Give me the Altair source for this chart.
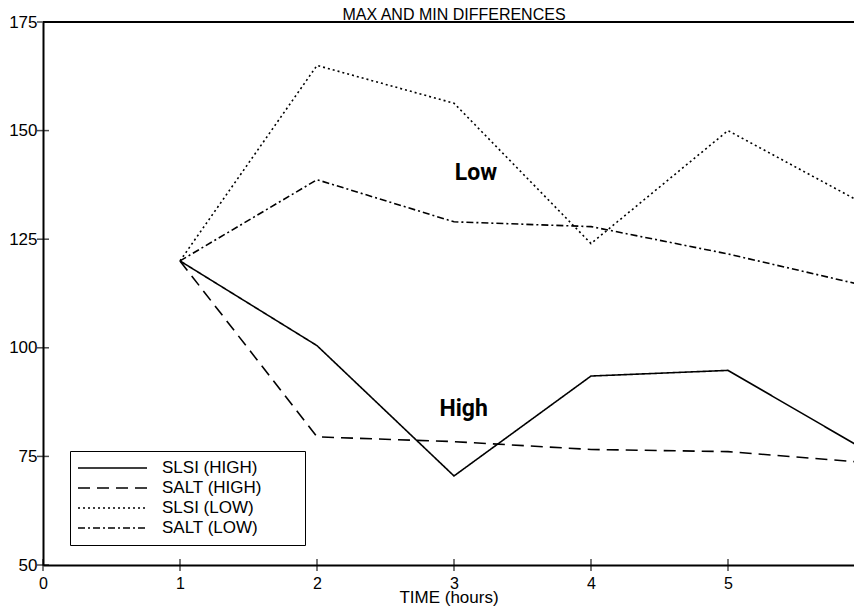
import altair as alt
import pandas as pd

hours = [1, 2, 3, 4, 5, 6]
series_names = ["SLSI (HIGH)", "SALT (HIGH)", "SLSI (LOW)", "SALT (LOW)"]
slsi_high = [120, 100.5, 70.5, 93.5, 94.8, 76.5]
salt_high = [120, 79.5, 78.4, 76.6, 76.1, 73.6]
slsi_low = [120, 165, 156.3, 124, 150, 133]
salt_low = [120, 138.7, 129, 127.9, 121.6, 114.3]

x_ticks = [0, 1, 2, 3, 4, 5, 6]
y_ticks = [50, 75, 100, 125, 150, 175]

labels_text = ["Low", "High"]
labels_x = [3.16, 3.07]
labels_y = [140.2, 86.0]

title_text = ["MAX AND MIN DIFFERENCES"]
title_x = [3.0]
title_y = [175]

rows = []
for name, vals in zip(series_names, [slsi_high, salt_high, slsi_low, salt_low]):
    for h, v in zip(hours, vals):
        rows.append({"hour": h, "value": v, "series": name})
df = pd.DataFrame(rows)

FONT = "Liberation Sans"
BOLD = "Roboto"

# the plot area runs past the right edge of the window (x = 6 is just off-screen)
VIEW_W = 811
X_MAX = 6 * VIEW_W / 822
xscale = alt.Scale(domain=[0, X_MAX], nice=False, zero=False)
yscale = alt.Scale(domain=[50, 175], nice=False, zero=False)

pad = "\u2800" * 3

lines = alt.Chart(df).mark_line(color="black", strokeWidth=1.6).encode(
    x=alt.X("hour:Q", scale=xscale,
            axis=alt.Axis(values=x_ticks, format="d", title="TIME (hours)", labelFlush=False,
                          tickSize=0, labelPadding=10, titleBaseline="alphabetic", titleY=37,
                          labelFontSize=16, titleFontSize=17, grid=False,
                          labelFont=FONT, titleFont=FONT, titleFontWeight="normal",
                          domainColor="black", domainWidth=2,
                          labelColor="black", titleColor="black")),
    y=alt.Y("value:Q", scale=yscale,
            axis=alt.Axis(values=y_ticks, format="d", title=None, labelFlush=False,
                          tickSize=0, labelPadding=6, labelFontSize=17,
                          labelFont=FONT, grid=False, domainColor="black",
                          domainWidth=2, labelColor="black")),
    strokeDash=alt.StrokeDash(
        "series:N",
        scale=alt.Scale(domain=series_names,
                        range=[[1, 0], [12, 7], [2, 3], [7, 3, 2, 3]]),
        legend=alt.Legend(
            title=None, orient="none", legendX=27, legendY=429,
            symbolType="stroke", symbolSize=4761, symbolStrokeWidth=1.5,
            symbolStrokeColor="black", clipHeight=20, rowPadding=0,
            labelOffset=14, labelFontSize=17, labelFont=FONT,
            labelColor="black", padding=7, strokeColor="black",
            fillColor="white", labelLimit=400,
            labelExpr="datum.label + '" + pad + "'",
        ),
    ),
)

top = alt.Chart(pd.DataFrame({"a": [0]})).mark_rule(color="black", strokeWidth=2).encode(
    x=alt.datum(0, scale=xscale), x2=alt.datum(6), y=alt.datum(175, scale=yscale))

xt = pd.DataFrame({"t": x_ticks, "base": [50] * len(x_ticks)})
yt = pd.DataFrame({"t": y_ticks, "base": [0] * len(y_ticks)})

xticks = alt.Chart(xt).mark_tick(orient="vertical", size=12, thickness=1.5, color="black").encode(
    x=alt.X("t:Q", scale=xscale), y=alt.Y("base:Q", scale=yscale))
yticks = alt.Chart(yt).mark_tick(orient="horizontal", size=12, thickness=1.5, color="black").encode(
    x=alt.X("base:Q", scale=xscale), y=alt.Y("t:Q", scale=yscale))

ann = pd.DataFrame({"text": labels_text, "x": labels_x, "y": labels_y})
texts = alt.Chart(ann).mark_text(font=BOLD, fontSize=23, fontWeight="bold", color="black").encode(
    x=alt.X("x:Q", scale=xscale), y=alt.Y("y:Q", scale=yscale), text="text:N")

tdf = pd.DataFrame({"text": title_text, "x": title_x, "y": title_y})
title = alt.Chart(tdf).mark_text(font=FONT, fontSize=16, baseline="alphabetic",
                                 align="center", dy=-2, color="black").encode(
    x=alt.X("x:Q", scale=xscale), y=alt.Y("y:Q", scale=yscale), text="text:N")

chart = alt.layer(lines, top, xticks, yticks, texts, title).properties(
    width=VIEW_W, height=543,
    autosize=alt.AutoSizeParams(type="none"),
    padding={"left": 35, "top": 14, "right": 0, "bottom": 42},
).configure_view(stroke=None).configure(background="white")

chart.save("out.html", embed_options={"renderer": "svg", "actions": False})
